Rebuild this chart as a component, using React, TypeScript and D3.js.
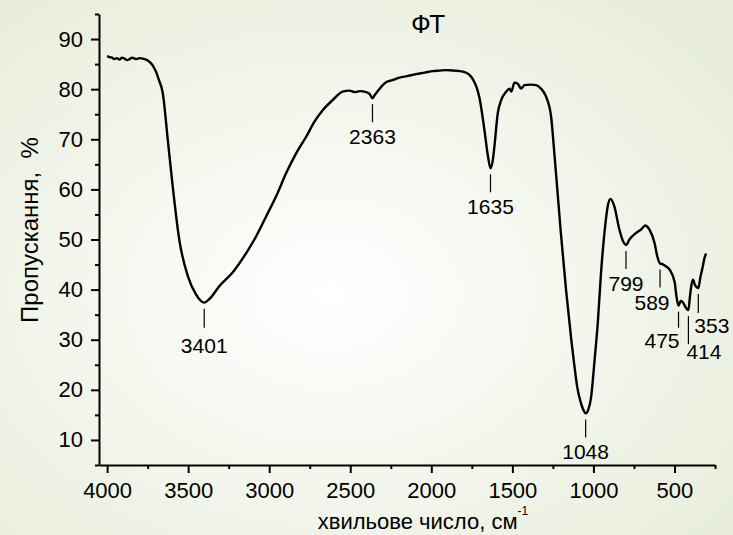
import React, { useEffect, useRef } from 'react';
import * as d3 from 'd3';

// FTIR spectrum, [wavenumber cm-1, transmittance %]
const spectrum: [number, number][] = [
  [4000, 86.6], [3985, 86.4], [3970, 86.3], [3955, 86.0], [3940, 86.2], [3924, 85.9],
  [3908, 86.3], [3893, 86.1], [3877, 85.8], [3862, 86.0], [3846, 86.3], [3831, 86.1],
  [3816, 86.0], [3801, 86.2], [3780, 86.1], [3760, 85.9], [3740, 85.5], [3720, 84.8],
  [3700, 83.6], [3680, 81.8], [3657, 79.3], [3626, 70.0], [3595, 60.5], [3554, 49.8],
  [3502, 42.7], [3451, 39.0], [3420, 37.7], [3401, 37.4], [3380, 37.8], [3358, 38.5],
  [3307, 40.7], [3226, 43.4], [3142, 47.3], [3081, 50.6], [3019, 54.6], [2948, 59.3],
  [2896, 63.2], [2834, 67.2], [2772, 70.5], [2721, 73.5], [2670, 75.8], [2609, 77.8],
  [2547, 79.5], [2505, 79.7], [2470, 79.4], [2440, 79.6], [2402, 79.4], [2380, 79.0],
  [2363, 78.2], [2350, 78.8], [2331, 79.6], [2300, 80.8], [2279, 81.4], [2240, 81.8],
  [2196, 82.3], [2150, 82.6], [2094, 83.0], [2040, 83.3], [1991, 83.6], [1950, 83.7],
  [1909, 83.8], [1860, 83.7], [1806, 83.5], [1770, 83.0], [1744, 82.0], [1720, 80.3],
  [1703, 78.3], [1673, 72.0], [1650, 66.5], [1635, 64.2], [1620, 66.0], [1611, 68.5],
  [1590, 75.2], [1569, 77.8], [1538, 79.5], [1518, 80.1], [1507, 79.5], [1487, 81.3],
  [1467, 81.1], [1446, 80.1], [1426, 80.8], [1390, 80.9], [1354, 80.8], [1323, 80.1],
  [1292, 78.5], [1261, 74.5], [1241, 67.2], [1221, 59.3], [1200, 51.0], [1169, 40.0],
  [1137, 30.1], [1120, 25.5], [1100, 20.6], [1080, 17.7], [1062, 16.0], [1048, 15.3],
  [1032, 16.0], [1014, 18.6], [994, 25.5], [973, 33.4], [953, 43.4], [932, 51.3],
  [912, 56.6], [895, 58.1], [871, 56.6], [840, 52.0], [815, 49.5], [799, 48.9],
  [778, 50.0], [737, 51.3], [706, 52.0], [680, 52.8], [655, 52.0], [623, 49.3],
  [605, 46.5], [589, 45.2], [575, 45.1], [560, 44.8], [530, 44.0], [499, 41.5],
  [487, 38.5], [475, 36.8], [460, 37.8], [445, 37.3], [430, 36.4], [414, 35.9],
  [405, 38.5], [395, 41.0], [385, 42.0], [375, 41.0], [363, 40.5], [353, 40.3],
  [340, 42.5], [326, 44.5], [315, 46.3], [305, 47.2],
];

const peaks = [3401, 2363, 1635, 1048, 799, 589, 475, 414, 353];

const xTicks = [4000, 3500, 3000, 2500, 2000, 1500, 1000, 500];
const xMinorTicks = [3750, 3250, 2750, 2250, 1750, 1250, 750, 250];
const yTicks = [10, 20, 30, 40, 50, 60, 70, 80, 90];
const yMinorTicks = [5, 15, 25, 35, 45, 55, 65, 75, 85, 95];

const title = 'ФТ';
const xTitle = 'хвильове число, см';
const yTitle = 'Пропускання,  %';

// label placement tweaks for the crowded fingerprint region
const peakLayout: Record<number, { len: number; dx: number; anchor: string; gap: number }> = {
  3401: { len: 19, dx: 0, anchor: 'middle', gap: 25 },
  589: { len: 18, dx: -8, anchor: 'middle', gap: 22 },
  475: { len: 16, dx: 1, anchor: 'end', gap: 20 },
  414: { len: 28, dx: -2, anchor: 'start', gap: 15 },
  353: { len: 19, dx: -4, anchor: 'start', gap: 20 },
};

const FONT = '"Liberation Sans", Arial, sans-serif';

export default function App() {
  const ref = useRef<SVGSVGElement>(null);

  useEffect(() => {
    const width = 733;
    const height = 535;
    const margin = { top: 14, left: 99, right: 18, bottom: 70 };

    const svg = d3.select(ref.current).attr('width', width).attr('height', height);

    // soft greenish background
    const defs = svg.selectAll('defs').data([0]).join('defs');
    const grad = defs.selectAll('radialGradient').data([0]).join('radialGradient')
      .attr('id', 'bg').attr('cx', '45%').attr('cy', '55%').attr('r', '75%');
    grad.selectAll('stop').data([['0%', '#ffffff'], ['100%', '#e6ecd8']]).join('stop')
      .attr('offset', (d) => d[0]).attr('stop-color', (d) => d[1]);
    svg.selectAll('.bg').data([0]).join('rect').attr('class', 'bg')
      .attr('width', width).attr('height', height).attr('fill', 'url(#bg)');

    const xScale = d3.scaleLinear().domain([4050, 250]).range([margin.left, width - margin.right]);
    const yScale = d3.scaleLinear().domain([5, 95]).range([height - margin.bottom, margin.top]);

    // minor ticks first, under the main axes
    svg.selectAll('.x_minor').data([0]).join('g').attr('class', 'x_minor')
      .attr('transform', `translate(0, ${height - margin.bottom})`)
      .call(d3.axisBottom(xScale).tickValues(xMinorTicks).tickSize(4).tickFormat(() => ''));
    svg.selectAll('.y_minor').data([0]).join('g').attr('class', 'y_minor')
      .attr('transform', `translate(${margin.left}, 0)`)
      .call(d3.axisLeft(yScale).tickValues(yMinorTicks).tickSize(4).tickFormat(() => ''));
    svg.selectAll('.x_minor .domain, .y_minor .domain').remove();

    svg.selectAll('.x_axis').data([0]).join('g').attr('class', 'x_axis')
      .attr('transform', `translate(0, ${height - margin.bottom})`)
      .call(d3.axisBottom(xScale).tickValues(xTicks).tickSize(8).tickSizeOuter(0).tickPadding(9).tickFormat(d3.format('d')));
    svg.selectAll('.y_axis').data([0]).join('g').attr('class', 'y_axis')
      .attr('transform', `translate(${margin.left}, 0)`)
      .call(d3.axisLeft(yScale).tickValues(yTicks).tickSize(8).tickSizeOuter(0).tickPadding(8));

    svg.selectAll('.x_axis, .y_axis, .x_minor, .y_minor').selectAll('line, path')
      .attr('stroke', '#000').attr('stroke-width', 2);
    svg.selectAll('.x_axis text, .y_axis text')
      .attr('font-family', FONT).attr('font-size', 22).attr('fill', '#000');

    // titles
    svg.selectAll('.title').data([0]).join('text').attr('class', 'title')
      .attr('x', 428).attr('y', 33).attr('text-anchor', 'middle')
      .attr('font-family', FONT).attr('font-size', 26).text(title);

    const xl = svg.selectAll('.x_label').data([0]).join('text').attr('class', 'x_label')
      .attr('x', 423).attr('y', 529).attr('text-anchor', 'middle')
      .attr('font-family', FONT).attr('font-size', 22);
    xl.selectAll('tspan').data([xTitle, '-1']).join('tspan')
      .attr('font-size', (d, i) => (i ? 12 : 22))
      .attr('dy', (d, i) => (i ? -14 : 0))
      .text((d) => d);

    svg.selectAll('.y_label').data([0]).join('text').attr('class', 'y_label')
      .attr('transform', `translate(38, 230) rotate(-90)`)
      .attr('text-anchor', 'middle').style('white-space', 'pre')
      .attr('font-family', FONT).attr('font-size', 24).text(yTitle);

    // spectrum
    const line = d3.line<[number, number]>()
      .x((d) => xScale(d[0]))
      .y((d) => yScale(d[1]))
      .curve(d3.curveMonotoneX);

    svg.selectAll('.line').data([spectrum]).join('path').attr('class', 'line')
      .attr('d', line).attr('fill', 'none').attr('stroke', '#000')
      .attr('stroke-width', 2.4).attr('stroke-linejoin', 'round');

    // peak markers
    const peakData = peaks.map((wn) => {
      const pt = spectrum.find((d) => d[0] === wn)!;
      const lay = peakLayout[wn] || { len: 18, dx: 0, anchor: 'middle', gap: 22 };
      const x = xScale(wn);
      const y0 = yScale(pt[1]) + 6;
      return { wn, x, y0, y1: y0 + lay.len, ...lay };
    });

    svg.selectAll('.peak_line').data(peakData).join('line').attr('class', 'peak_line')
      .attr('x1', (d) => d.x).attr('x2', (d) => d.x)
      .attr('y1', (d) => d.y0).attr('y2', (d) => d.y1)
      .attr('stroke', '#000').attr('stroke-width', 1.2);

    svg.selectAll('.peak_label').data(peakData).join('text').attr('class', 'peak_label')
      .attr('x', (d) => d.x + d.dx).attr('y', (d) => d.y1 + d.gap)
      .attr('text-anchor', (d) => d.anchor)
      .attr('font-family', FONT).attr('font-size', 21).text((d) => d.wn);
  }, []);

  return (
    <div style={{ position: 'absolute', left: 0, top: 0 }}>
      <svg ref={ref} style={{ display: 'block' }}></svg>
    </div>
  );
}
